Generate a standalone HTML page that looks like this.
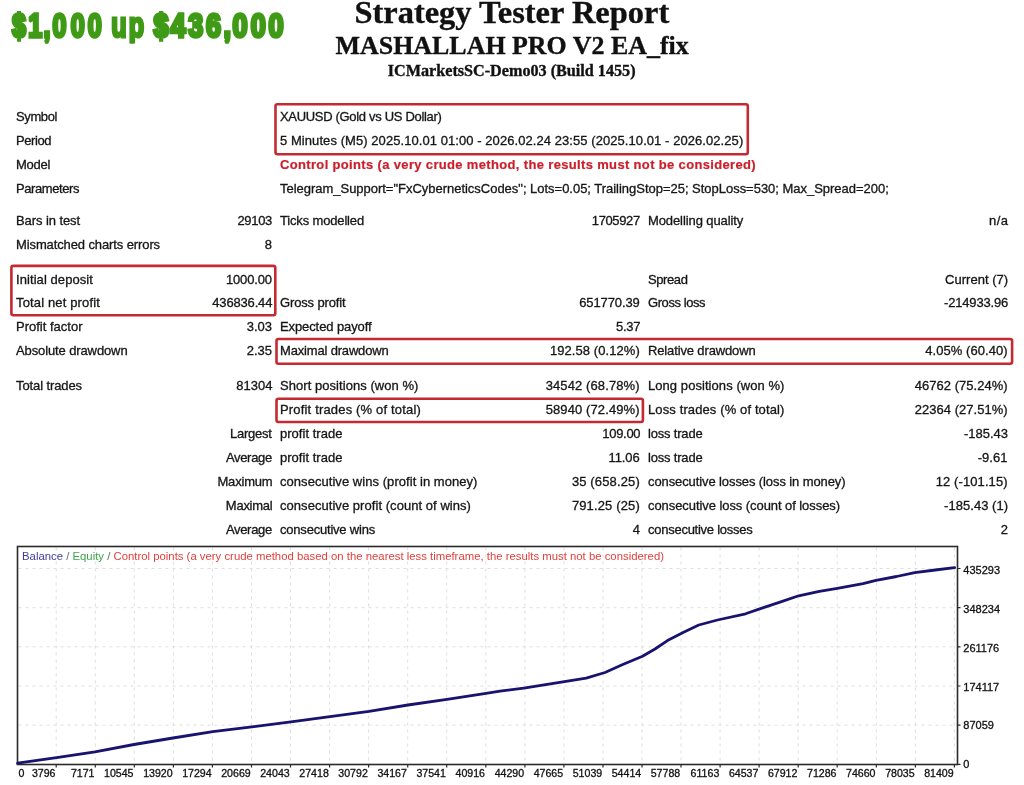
<!DOCTYPE html>
<html><head><meta charset="utf-8"><title>Strategy Tester Report</title>
<style>
html,body{margin:0;padding:0;background:#fff;}
body{width:1024px;height:785px;position:relative;overflow:hidden;filter:blur(0.4px);font-family:"Liberation Sans",sans-serif;color:#1a1a1a;}
.t{position:absolute;font-size:12.4px;line-height:16px;white-space:nowrap;color:#161616;-webkit-text-stroke:0.3px #161616;transform:scaleX(1.048);transform-origin:0 50%;}
.t.r{transform-origin:100% 50%;}
.redb{color:#cc1f2b;font-weight:bold;-webkit-text-stroke:0.2px #cc1f2b;}
.rb{position:absolute;border:2.8px solid #c42a32;border-radius:3px;box-sizing:border-box;}
.h{position:absolute;left:0;width:1024px;text-align:center;font-family:"Liberation Serif",serif;font-weight:bold;color:#111;white-space:nowrap;-webkit-text-stroke:0.35px #111;}
.h span{display:inline-block;transform-origin:50% 50%;}
#h1{top:-5.1px;font-size:31.5px;line-height:36px;}
#h1s{transform:scaleX(1.03);}
#h2{top:32.3px;font-size:24.7px;line-height:28px;}
#h2s{transform:scaleX(1.05);}
#h3{top:62.4px;font-size:16px;line-height:18px;}
#h3s{transform:scaleX(1.01);}
.chart{position:absolute;left:0;top:0;}
.chart text{font-family:"Liberation Sans",sans-serif;font-size:11px;fill:#111;stroke:#111;stroke-width:0.3px;}
.chart text.xl{font-size:10.6px;}
.chart text.lg{font-size:10.8px;stroke:none;}
</style></head><body>
<svg id="promo" width="300" height="60" viewBox="0 0 300 60" style="position:absolute;left:0;top:0;font-family:'Liberation Sans',sans-serif;font-weight:bold;stroke-width:3.0;stroke-linejoin:miter;stroke-miterlimit:2;fill:#3f9a16;stroke:#3f9a16"><defs><clipPath id="pclip"><rect x="0" y="0" width="300" height="43.4"/></clipPath></defs><text transform="translate(11.90 37.4) scale(0.88 1.175)" font-size="28.5" x="0.00 18.64 36.02 46.14 66.76 86.25">$1,000</text> <g clip-path="url(#pclip)"><text transform="translate(111.35 37.4) scale(0.73 1.0)" font-size="34.5" x="0.00 23.90">up</text></g> <text transform="translate(153.60 37.4) scale(0.95 1.175)" font-size="28.5" x="0.00 17.84 36.47 55.26 73.58 83.11 102.32 120.89">$436,000</text></svg>
<div class="h" id="h1"><span id="h1s">Strategy Tester Report</span></div>
<div class="h" id="h2"><span id="h2s">MASHALLAH PRO V2 EA_fix</span></div>
<div class="h" id="h3"><span id="h3s">ICMarketsSC-Demo03 (Build 1455)</span></div>
<div class="t" style="top:108.7px;left:16.2px;letter-spacing:-0.368px;">Symbol</div>
<div class="t" style="top:108.7px;left:280.3px;letter-spacing:-0.297px;">XAUUSD (Gold vs US Dollar)</div>
<div class="t" style="top:132.7px;left:16.2px;letter-spacing:-0.400px;">Period</div>
<div class="t" id="period" style="top:132.7px;left:280.3px;letter-spacing:0.070px;">5 Minutes (M5) 2025.10.01 01:00 - 2026.02.24 23:55 (2025.10.01 - 2026.02.25)</div>
<div class="t" style="top:156.7px;left:16.2px;letter-spacing:-0.261px;">Model</div>
<div class="t redb" id="model" style="top:156.7px;left:280.3px;letter-spacing:0.332px;">Control points (a very crude method, the results must not be considered)</div>
<div class="t" style="top:180.7px;left:16.2px;letter-spacing:-0.393px;">Parameters</div>
<div class="t" id="params" style="top:180.7px;left:280.3px;letter-spacing:-0.014px;">Telegram_Support=&quot;FxCyberneticsCodes&quot;; Lots=0.05; TrailingStop=25; StopLoss=530; Max_Spread=200;</div>
<div class="t" style="top:212.7px;left:16.2px;letter-spacing:-0.076px;">Bars in test</div>
<div class="t r" style="top:212.7px;right:752px;letter-spacing:-0.291px;">29103</div>
<div class="t" style="top:212.7px;left:280.3px;letter-spacing:-0.145px;">Ticks modelled</div>
<div class="t r" style="top:212.7px;right:384px;letter-spacing:-0.350px;">1705927</div>
<div class="t" style="top:212.7px;left:648.1px;letter-spacing:-0.086px;">Modelling quality</div>
<div class="t r" style="top:212.7px;right:16px;letter-spacing:0.400px;">n/a</div>
<div class="t" id="mis" style="top:236.7px;left:16.2px;letter-spacing:-0.099px;">Mismatched charts errors</div>
<div class="t r" style="top:236.7px;right:752px;">8</div>
<div class="t" style="top:271.7px;left:16.2px;letter-spacing:0.076px;">Initial deposit</div>
<div class="t r" style="top:271.7px;right:752px;letter-spacing:-0.129px;">1000.00</div>
<div class="t" style="top:271.7px;left:648.1px;letter-spacing:-0.380px;">Spread</div>
<div class="t r" style="top:271.7px;right:16px;letter-spacing:0.019px;">Current (7)</div>
<div class="t" style="top:295.4px;left:16.2px;letter-spacing:0.145px;">Total net profit</div>
<div class="t r" style="top:295.4px;right:752px;letter-spacing:-0.147px;">436836.44</div>
<div class="t" style="top:295.4px;left:280.3px;letter-spacing:-0.129px;">Gross profit</div>
<div class="t r" style="top:295.4px;right:384px;letter-spacing:-0.094px;">651770.39</div>
<div class="t" style="top:295.4px;left:648.1px;letter-spacing:-0.400px;">Gross loss</div>
<div class="t r" style="top:295.4px;right:16px;letter-spacing:-0.163px;">-214933.96</div>
<div class="t" style="top:319.4px;left:16.2px;letter-spacing:0.007px;">Profit factor</div>
<div class="t r" style="top:319.4px;right:752px;letter-spacing:-0.068px;">3.03</div>
<div class="t" style="top:319.4px;left:280.3px;letter-spacing:-0.089px;">Expected payoff</div>
<div class="t r" style="top:319.4px;right:384px;letter-spacing:-0.187px;">5.37</div>
<div class="t" style="top:343.3px;left:16.2px;letter-spacing:-0.103px;">Absolute drawdown</div>
<div class="t r" style="top:343.3px;right:752px;letter-spacing:-0.068px;">2.35</div>
<div class="t" style="top:343.3px;left:280.3px;letter-spacing:-0.157px;">Maximal drawdown</div>
<div class="t r" style="top:343.3px;right:384px;letter-spacing:0.082px;">192.58 (0.12%)</div>
<div class="t" style="top:343.3px;left:648.1px;letter-spacing:-0.124px;">Relative drawdown</div>
<div class="t r" style="top:343.3px;right:16px;letter-spacing:0.068px;">4.05% (60.40)</div>
<div class="t" style="top:377.7px;left:16.2px;letter-spacing:-0.090px;">Total trades</div>
<div class="t r" style="top:377.7px;right:752px;letter-spacing:-0.024px;">81304</div>
<div class="t" style="top:377.7px;left:280.3px;letter-spacing:0.056px;">Short positions (won %)</div>
<div class="t r" style="top:377.7px;right:384px;letter-spacing:0.108px;">34542 (68.78%)</div>
<div class="t" style="top:377.7px;left:648.1px;letter-spacing:0.066px;">Long positions (won %)</div>
<div class="t r" style="top:377.7px;right:16px;letter-spacing:0.039px;">46762 (75.24%)</div>
<div class="t" style="top:401.7px;left:280.3px;letter-spacing:0.169px;">Profit trades (% of total)</div>
<div class="t r" style="top:401.7px;right:384px;letter-spacing:0.108px;">58940 (72.49%)</div>
<div class="t" style="top:401.7px;left:648.1px;letter-spacing:0.118px;">Loss trades (% of total)</div>
<div class="t r" style="top:401.7px;right:16px;letter-spacing:0.039px;">22364 (27.51%)</div>
<div class="t r" style="top:425.7px;right:752px;letter-spacing:-0.249px;">Largest</div>
<div class="t" style="top:425.7px;left:280.3px;letter-spacing:0.034px;">profit trade</div>
<div class="t r" style="top:425.7px;right:384px;letter-spacing:-0.274px;">109.00</div>
<div class="t" style="top:425.7px;left:648.1px;letter-spacing:-0.173px;">loss trade</div>
<div class="t r" style="top:425.7px;right:16px;letter-spacing:-0.007px;">-185.43</div>
<div class="t r" style="top:449.7px;right:752px;letter-spacing:-0.292px;">Average</div>
<div class="t" style="top:449.7px;left:280.3px;letter-spacing:0.034px;">profit trade</div>
<div class="t r" style="top:449.7px;right:384px;letter-spacing:-0.103px;">11.06</div>
<div class="t" style="top:449.7px;left:648.1px;letter-spacing:-0.173px;">loss trade</div>
<div class="t r" style="top:449.7px;right:16px;letter-spacing:0.075px;">-9.61</div>
<div class="t r" style="top:473.7px;right:752px;letter-spacing:-0.175px;">Maximum</div>
<div class="t" style="top:473.7px;left:280.3px;letter-spacing:0.054px;">consecutive wins (profit in money)</div>
<div class="t r" style="top:473.7px;right:384px;letter-spacing:0.137px;">35 (658.25)</div>
<div class="t" style="top:473.7px;left:648.1px;letter-spacing:-0.088px;">consecutive losses (loss in money)</div>
<div class="t r" style="top:473.7px;right:16px;letter-spacing:0.099px;">12 (-101.15)</div>
<div class="t r" style="top:497.7px;right:752px;letter-spacing:-0.253px;">Maximal</div>
<div class="t" style="top:497.7px;left:280.3px;letter-spacing:0.053px;">consecutive profit (count of wins)</div>
<div class="t r" style="top:497.7px;right:384px;letter-spacing:0.137px;">791.25 (25)</div>
<div class="t" style="top:497.7px;left:648.1px;letter-spacing:-0.061px;">consecutive loss (count of losses)</div>
<div class="t r" style="top:497.7px;right:16px;letter-spacing:0.040px;">-185.43 (1)</div>
<div class="t r" style="top:521.7px;right:752px;letter-spacing:-0.292px;">Average</div>
<div class="t" style="top:521.7px;left:280.3px;letter-spacing:-0.189px;">consecutive wins</div>
<div class="t r" style="top:521.7px;right:384px;">4</div>
<div class="t" style="top:521.7px;left:648.1px;letter-spacing:-0.238px;">consecutive losses</div>
<div class="t r" style="top:521.7px;right:16px;">2</div>
<svg class="chart" width="1024" height="785" viewBox="0 0 1024 785"><rect x="275.5" y="104.3" width="472.3" height="50.0" rx="2" ry="2" fill="none" stroke="#c42a32" stroke-width="2.6"/><rect x="11.4" y="265.9" width="263.9" height="49.4" rx="2" ry="2" fill="none" stroke="#c42a32" stroke-width="2.6"/><rect x="276.5" y="339" width="735.6" height="24.8" rx="2" ry="2" fill="none" stroke="#c42a32" stroke-width="2.6"/><rect x="276.5" y="398.7" width="366.4" height="23.3" rx="2" ry="2" fill="none" stroke="#c42a32" stroke-width="2.6"/></svg>
<svg class="chart" width="1024" height="785" viewBox="0 0 1024 785">
<path d="M56.2 547.5 V763.5 M95.3 547.5 V763.5 M134.3 547.5 V763.5 M173.4 547.5 V763.5 M212.4 547.5 V763.5 M251.5 547.5 V763.5 M290.5 547.5 V763.5 M329.6 547.5 V763.5 M368.6 547.5 V763.5 M407.7 547.5 V763.5 M446.7 547.5 V763.5 M485.8 547.5 V763.5 M524.9 547.5 V763.5 M563.9 547.5 V763.5 M603.0 547.5 V763.5 M642.0 547.5 V763.5 M681.0 547.5 V763.5 M720.1 547.5 V763.5 M759.1 547.5 V763.5 M798.2 547.5 V763.5 M837.2 547.5 V763.5 M876.3 547.5 V763.5 M915.4 547.5 V763.5 M954.4 547.5 V763.5 M18.5 725.1 H956.5 M18.5 686.0 H956.5 M18.5 646.8 H956.5 M18.5 607.7 H956.5 M18.5 568.5 H956.5" stroke="#dedede" stroke-width="1" stroke-dasharray="3 4" fill="none"/>
<rect x="17.5" y="546.5" width="940.0" height="218.0" fill="none" stroke="#2a2a2a" stroke-width="1.6"/>
<path d="M957.5 764.3 h3 M957.5 725.1 h3 M957.5 686.0 h3 M957.5 646.8 h3 M957.5 607.7 h3 M957.5 568.5 h3 M56.2 764.5 v3 M95.3 764.5 v3 M134.3 764.5 v3 M173.4 764.5 v3 M212.4 764.5 v3 M251.5 764.5 v3 M290.5 764.5 v3 M329.6 764.5 v3 M368.6 764.5 v3 M407.7 764.5 v3 M446.7 764.5 v3 M485.8 764.5 v3 M524.9 764.5 v3 M563.9 764.5 v3 M603.0 764.5 v3 M642.0 764.5 v3 M681.0 764.5 v3 M720.1 764.5 v3 M759.1 764.5 v3 M798.2 764.5 v3 M837.2 764.5 v3 M876.3 764.5 v3 M915.4 764.5 v3 M954.4 764.5 v3" stroke="#2a2a2a" stroke-width="1.2" fill="none"/>
<path d="M17.6 763.2 L56.6 757.6 L95.0 751.8 L134.0 744.5 L173.0 738.0 L212.8 731.6 L251.9 726.9 L290.9 721.9 L330.0 716.6 L369.0 711.3 L408.0 705.0 L447.0 699.4 L486.0 693.3 L500.0 691.2 L523.8 688.1 L562.8 681.9 L586.2 678.1 L605.0 672.5 L622.2 664.7 L642.5 656.2 L655.0 649.0 L667.5 640.6 L683.1 632.5 L698.8 625.0 L717.5 620.0 L745.6 613.8 L761.2 608.4 L780.0 602.2 L798.7 595.8 L819.3 591.4 L837.3 588.3 L863.1 583.7 L876.0 580.3 L896.6 576.5 L914.7 572.6 L935.3 570.0 L954.6 567.7" stroke="#18136e" stroke-width="2.8" fill="none" stroke-linejoin="round" stroke-linecap="round"/>
<text x="22" y="560" class="lg" textLength="642" lengthAdjust="spacingAndGlyphs"><tspan fill="#3c3c9c">Balance</tspan><tspan fill="#666"> / </tspan><tspan fill="#3da648">Equity</tspan><tspan fill="#666"> / </tspan><tspan fill="#e0403c">Control points (a very crude method based on the nearest less timeframe, the results must not be considered)</tspan></text>
<text x="963.3" y="574.0">435293</text>
<text x="963.3" y="612.9">348234</text>
<text x="963.3" y="651.7">261176</text>
<text x="963.3" y="690.6">174117</text>
<text x="963.3" y="729.4">87059</text>
<text x="963.3" y="768.3">0</text>
<text x="18.5" y="777.3" class="xl">0</text>
<text x="55.5" y="777.3" class="xl" text-anchor="end">3796</text>
<text x="94.5" y="777.3" class="xl" text-anchor="end">7171</text>
<text x="133.5" y="777.3" class="xl" text-anchor="end">10545</text>
<text x="172.6" y="777.3" class="xl" text-anchor="end">13920</text>
<text x="211.6" y="777.3" class="xl" text-anchor="end">17294</text>
<text x="250.7" y="777.3" class="xl" text-anchor="end">20669</text>
<text x="289.7" y="777.3" class="xl" text-anchor="end">24043</text>
<text x="328.8" y="777.3" class="xl" text-anchor="end">27418</text>
<text x="367.8" y="777.3" class="xl" text-anchor="end">30792</text>
<text x="406.9" y="777.3" class="xl" text-anchor="end">34167</text>
<text x="445.9" y="777.3" class="xl" text-anchor="end">37541</text>
<text x="485.0" y="777.3" class="xl" text-anchor="end">40916</text>
<text x="524.1" y="777.3" class="xl" text-anchor="end">44290</text>
<text x="563.1" y="777.3" class="xl" text-anchor="end">47665</text>
<text x="602.2" y="777.3" class="xl" text-anchor="end">51039</text>
<text x="641.2" y="777.3" class="xl" text-anchor="end">54414</text>
<text x="680.2" y="777.3" class="xl" text-anchor="end">57788</text>
<text x="719.3" y="777.3" class="xl" text-anchor="end">61163</text>
<text x="758.4" y="777.3" class="xl" text-anchor="end">64537</text>
<text x="797.4" y="777.3" class="xl" text-anchor="end">67912</text>
<text x="836.5" y="777.3" class="xl" text-anchor="end">71286</text>
<text x="875.5" y="777.3" class="xl" text-anchor="end">74660</text>
<text x="914.6" y="777.3" class="xl" text-anchor="end">78035</text>
<text x="953.6" y="777.3" class="xl" text-anchor="end">81409</text>
</svg>
</body></html>
